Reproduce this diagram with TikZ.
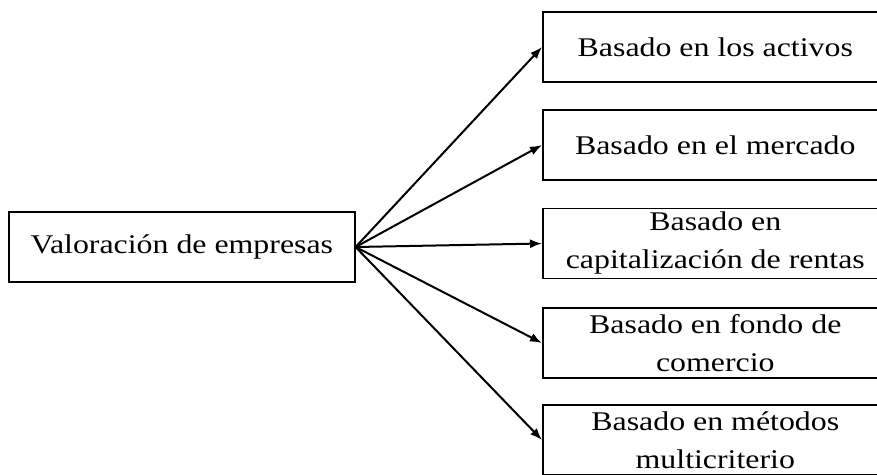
\documentclass[tikz,border=0pt]{standalone}
\usepackage{fontspec}
\setmainfont{Liberation Serif}[FakeStretch=1.18]
\usepackage{tikz}
\usetikzlibrary{positioning,arrows.meta}

\tikzset{
    metodo/.style={draw, line width=1.6pt, anchor=west, minimum width=345pt,
        minimum height=70pt, align=center, inner sep=2pt,
        font=\fontsize{27}{38}\selectfont},
    flecha/.style={-{Latex[length=12pt,width=9pt]}, line width=2pt}
}

\begin{document}
\begin{tikzpicture}[x=1pt,y=-1pt]
    \useasboundingbox (0,0) rectangle (877,474);

    % Nodo principal
    \node[metodo, minimum width=346pt] (valoracion) at (8,247) {Valoraci\'on de empresas};

    % Metodos de valoracion
    \node[metodo] (activos) at (542,47) {Basado en los activos};
    \node[metodo] (mercado) at (542,145) {Basado en el mercado};
    \node[metodo] (rentas) at (542,243.5) {Basado en\\capitalizaci\'on de rentas};
    \node[metodo] (fondo) at (542,343) {Basado en fondo de\\comercio};
    \node[metodo] (multi) at (542,440) {Basado en m\'etodos\\multicriterio};

    % Flechas
    \foreach \dest in {activos,mercado,rentas,fondo,multi}
        \draw[flecha] (valoracion.east) -- (\dest.west);
\end{tikzpicture}
\end{document}
